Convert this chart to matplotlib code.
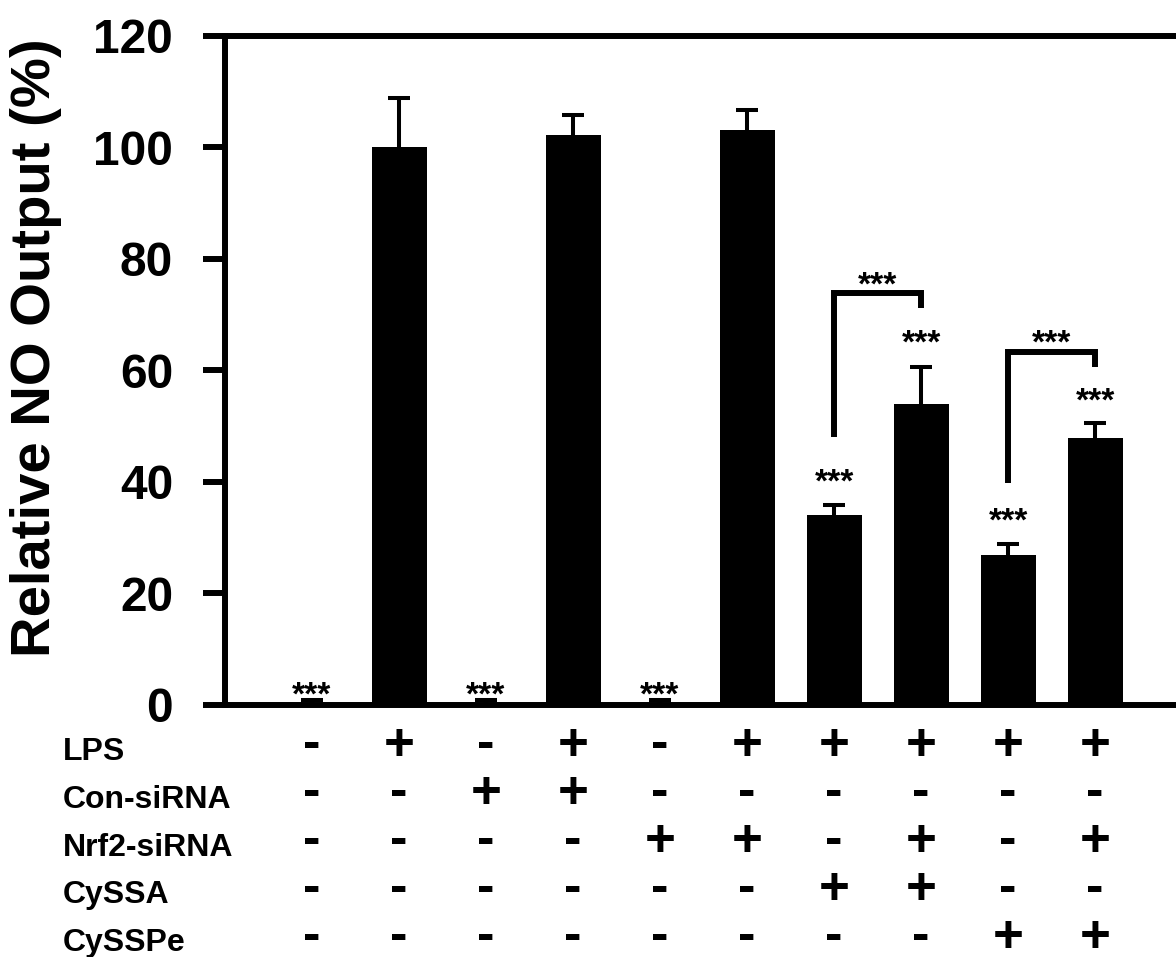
import matplotlib
matplotlib.use("Agg")
import matplotlib.pyplot as plt
import matplotlib.transforms as mtransforms
import numpy as np

# ---------------- data ----------------
values = [0.3, 100.0, 0.3, 102.2, 0.3, 103.0, 34.0, 54.0, 26.9, 47.8]
errors = [0.6, 8.8, 0.6, 3.6, 0.6, 3.6, 1.8, 6.6, 1.9, 2.8]

row_labels = ["LPS", "Con-siRNA", "Nrf2-siRNA", "CySSA", "CySSPe"]
lps        = ["-", "+", "-", "+", "-", "+", "+", "+", "+", "+"]
con_sirna  = ["-", "-", "+", "+", "-", "-", "-", "-", "-", "-"]
nrf2_sirna = ["-", "-", "-", "-", "+", "+", "-", "+", "-", "+"]
cyssa      = ["-", "-", "-", "-", "-", "-", "+", "+", "-", "-"]
cysspe     = ["-", "-", "-", "-", "-", "-", "-", "-", "+", "+"]
table_rows = [lps, con_sirna, nrf2_sirna, cyssa, cysspe]

# star label heights above each bar (None = no label)
star_y = [3.4, None, 3.4, None, 3.4, None, 41.6, 66.5, 34.6, 56.1]
# brackets: (left bar, right bar, left leg bottom, top, right leg bottom, star y)
brackets = [(6, 7, 48.0, 73.8, 71.1, 77.0),
            (8, 9, 39.8, 63.2, 60.5, 66.6)]

yticks = [0, 20, 40, 60, 80, 100, 120]

# ---------------- figure ----------------
W, H = 1176, 957
fig = plt.figure(figsize=(W / 100, H / 100), dpi=100)
plt.rcParams['font.family'] = ['Liberation Sans', 'DejaVu Sans']
plt.rcParams['font.weight'] = 'bold'

ax_left, ax_right = 225 / W, 1.0
ax_bottom, ax_top = 1 - 705 / H, 1 - 35.5 / H
ax = fig.add_axes([ax_left, ax_bottom, ax_right - ax_left, ax_top - ax_bottom])

x = np.arange(len(values))
tops = np.array(values) + np.array(errors)
ax.bar(x, values, width=0.632, color="black", edgecolor="none", zorder=2)
# upper-only error bars: stem + cap
ax.vlines(x, values, tops, colors="black", linewidth=2.9, zorder=3)
ax.plot(x, tops, linestyle="none", marker="_", markersize=15.8,
        markeredgewidth=2.9, color="black", zorder=3)

ax.set_xlim(-1.0, 9.93)
ax.set_ylim(0, 120)
ax.set_yticks(yticks)
ax.set_yticklabels([str(t) for t in yticks], fontsize=34.5, fontweight="bold")
ax.set_xticks([])

for s in ["left", "bottom", "top"]:
    ax.spines[s].set_linewidth(4.3)
ax.spines["right"].set_visible(False)
ax.tick_params(axis="y", direction="out", length=15.8, width=4.3, pad=21.6)

# stars
star_fs = 24
def stars(xc, yc):
    ax.annotate("***", xy=(xc, yc), xytext=(0, -0.56 * star_fs),
                textcoords="offset points", ha="center", va="baseline",
                fontsize=star_fs, fontweight="bold", annotation_clip=False)

for i, sy in enumerate(star_y):
    if sy is not None:
        stars(x[i], sy)

for (l, r, yl, yt, yr, ys) in brackets:
    ax.plot([x[l], x[l], x[r], x[r]], [yl, yt, yt, yr], color="black",
            lw=4.3, solid_capstyle="butt", solid_joinstyle="miter",
            clip_on=False)
    stars((x[l] + x[r]) / 2, ys)

# y label
fig.text(36 / W, 1 - 348 / H, "Relative NO Output (%)", rotation=90,
         ha="center", va="center", fontsize=40.5, fontweight="bold")

# condition table
trans = mtransforms.blended_transform_factory(ax.transData, fig.transFigure)
baselines = [759.5 + 48.0 * k for k in range(len(row_labels))]
for k, (lab, row) in enumerate(zip(row_labels, table_rows)):
    yb = 1 - baselines[k] / H
    fig.text(63 / W, yb, lab, ha="left", va="baseline", fontsize=23,
             fontweight="bold")
    for i, sgn in enumerate(row):
        ax.text(x[i], yb, sgn, transform=trans, ha="center", va="baseline",
                fontsize=38, fontweight="bold", clip_on=False)

fig.savefig("out.png", dpi=100)
